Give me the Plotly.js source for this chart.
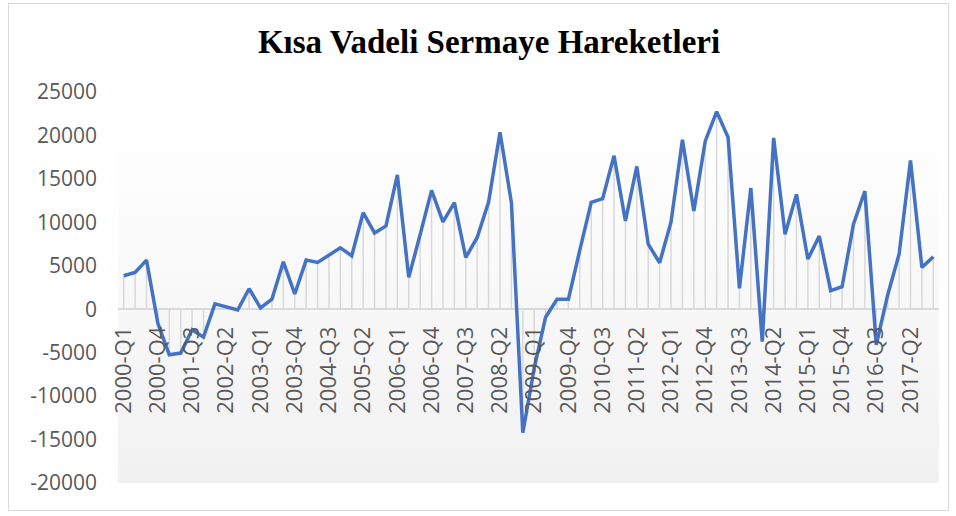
<!DOCTYPE html>
<html>
<head>
<meta charset="utf-8">
<script src="https://cdn.plot.ly/plotly-3.0.1.min.js"></script>
<style>
html,body{margin:0;padding:0;background:#fff;}
#wrap{position:relative;width:956px;height:516px;}
#chart{position:absolute;left:0;top:0;width:956px;height:516px;}
#frame{position:absolute;left:8px;top:3px;width:939px;height:506px;border:1px solid #d9d9d9;pointer-events:none;}
</style>
</head>
<body>
<div id="wrap"><div id="chart"></div><div id="frame"></div></div>
<script>
const chartTitle = "Kısa Vadeli Sermaye Hareketleri";

const categories = [
 "2000-Q1","2000-Q2","2000-Q3","2000-Q4","2001-Q1","2001-Q2","2001-Q3","2001-Q4",
 "2002-Q1","2002-Q2","2002-Q3","2002-Q4","2003-Q1","2003-Q2","2003-Q3","2003-Q4",
 "2004-Q1","2004-Q2","2004-Q3","2004-Q4","2005-Q1","2005-Q2","2005-Q3","2005-Q4",
 "2006-Q1","2006-Q2","2006-Q3","2006-Q4","2007-Q1","2007-Q2","2007-Q3","2007-Q4",
 "2008-Q1","2008-Q2","2008-Q3","2008-Q4","2009-Q1","2009-Q2","2009-Q3","2009-Q4",
 "2010-Q1","2010-Q2","2010-Q3","2010-Q4","2011-Q1","2011-Q2","2011-Q3","2011-Q4",
 "2012-Q1","2012-Q2","2012-Q3","2012-Q4","2013-Q1","2013-Q2","2013-Q3","2013-Q4",
 "2014-Q1","2014-Q2","2014-Q3","2014-Q4","2015-Q1","2015-Q2","2015-Q3","2015-Q4",
 "2016-Q1","2016-Q2","2016-Q3","2016-Q4","2017-Q1","2017-Q2","2017-Q3","2017-Q4"
];

const values = [
  3850, 4240, 5650, -1650, -5240, -5050, -2370, -3210,
  610, 300, -80, 2360, 150, 1150, 5460, 1750,
  5650, 5390, 6230, 7060, 6150, 11120, 8780, 9590,
  15450, 3670, 8600, 13680, 10050, 12270, 5960, 8260,
  12340, 20370, 12270, -14220, -6800, -920, 1150, 1150,
  6800, 12300, 12730, 17660, 10160, 16430, 7490, 5350,
  10050, 19500, 11310, 19340, 22740, 19800, 2410, 13950,
  -3720, 19720, 8630, 13220, 5770, 8410, 2130, 2590,
  9780, 13600, -4090, 1640, 6340, 17120, 4820, 6030
];

const tickLabels = [
 "2000-Q1","2000-Q4","2001-Q3","2002-Q2","2003-Q1","2003-Q4","2004-Q3","2005-Q2",
 "2006-Q1","2006-Q4","2007-Q3","2008-Q2","2009-Q1","2009-Q4","2010-Q3","2011-Q2",
 "2012-Q1","2012-Q4","2013-Q3","2014-Q2","2015-Q1","2015-Q4","2016-Q3","2017-Q2"
];

const yTicks = [-20000,-15000,-10000,-5000,0,5000,10000,15000,20000,25000];

const yMin = -20000, yMax = 25000;

const dropUp = values.map(v => v < 0 ? -v : 0);
const dropDown = values.map(v => v > 0 ? v : 0);

const gradSvg = "<svg xmlns='http://www.w3.org/2000/svg' width='100' height='100' viewBox='0 0 100 100' preserveAspectRatio='none'>" +
  "<defs><linearGradient id='g' x1='0' y1='0' x2='0' y2='1'>" +
  "<stop offset='0' stop-color='#fefefe'/><stop offset='1' stop-color='#f1f1f1'/>" +
  "</linearGradient></defs><rect x='0' y='0' width='100' height='100' fill='url(#g)'/></svg>";
const gradUrl = "data:image/svg+xml;charset=utf-8," + encodeURIComponent(gradSvg);

const yTickFont = {family: "'Open Sans', 'DejaVu Sans', sans-serif", size: 21, color: "#595959"};
const xTickFont = {family: "'Open Sans', 'DejaVu Sans', sans-serif", size: 22, color: "#595959"};

const traces = [
  {
    type: "scatter", mode: "markers",
    x: categories, y: values,
    marker: {size: 1, opacity: 0},
    error_y: {type: "data", symmetric: false, array: dropUp, arrayminus: dropDown,
              width: 0, thickness: 1.5, color: "#d9d9d9"},
    hoverinfo: "skip", showlegend: false
  },
  {
    type: "scatter", mode: "lines",
    x: categories, y: values,
    line: {color: "#4472C4", width: 3.5},
    showlegend: false
  }
];

const zeroPos = (0 - yMin) / (yMax - yMin);

const layout = {
  width: 956, height: 516,
  margin: {l: 118, r: 17, t: 92, b: 33},
  paper_bgcolor: "rgba(0,0,0,0)",
  plot_bgcolor: "rgba(0,0,0,0)",
  showlegend: false,
  hovermode: false,
  title: {
    text: chartTitle,
    font: {family: "'Liberation Serif', 'Times New Roman', serif", size: 33, color: "#000", weight: "bold"},
    x: 489/956, xref: "container", xanchor: "center",
    y: 1 - 41/516, yref: "container", yanchor: "middle"
  },
  xaxis: {
    type: "category",
    categoryorder: "array", categoryarray: categories,
    range: [-0.5, categories.length - 0.5],
    tickmode: "array", tickvals: tickLabels, ticktext: tickLabels,
    tickangle: -90,
    ticks: "", ticklen: 0,
    ticklabelstandoff: 12,
    showgrid: false, showline: false, zeroline: false,
    anchor: "free", position: zeroPos,
    tickfont: xTickFont,
    fixedrange: true
  },
  yaxis: {
    range: [yMin, yMax],
    tickmode: "array", tickvals: yTicks, ticktext: yTicks.map(String),
    ticks: "", ticklen: 0,
    ticklabelstandoff: 20,
    showgrid: false, showline: false,
    zeroline: true, zerolinecolor: "#d9d9d9", zerolinewidth: 1.5,
    tickfont: yTickFont,
    fixedrange: true
  },
  images: [{
    source: gradUrl, xref: "paper", yref: "paper",
    x: 0, y: (483 - 143) / 391, sizex: 1, sizey: (483 - 143) / 391,
    xanchor: "left", yanchor: "top", sizing: "stretch", layer: "below"
  }]
};

Plotly.newPlot("chart", traces, layout, {staticPlot: true, displayModeBar: false});
</script>
</body>
</html>
